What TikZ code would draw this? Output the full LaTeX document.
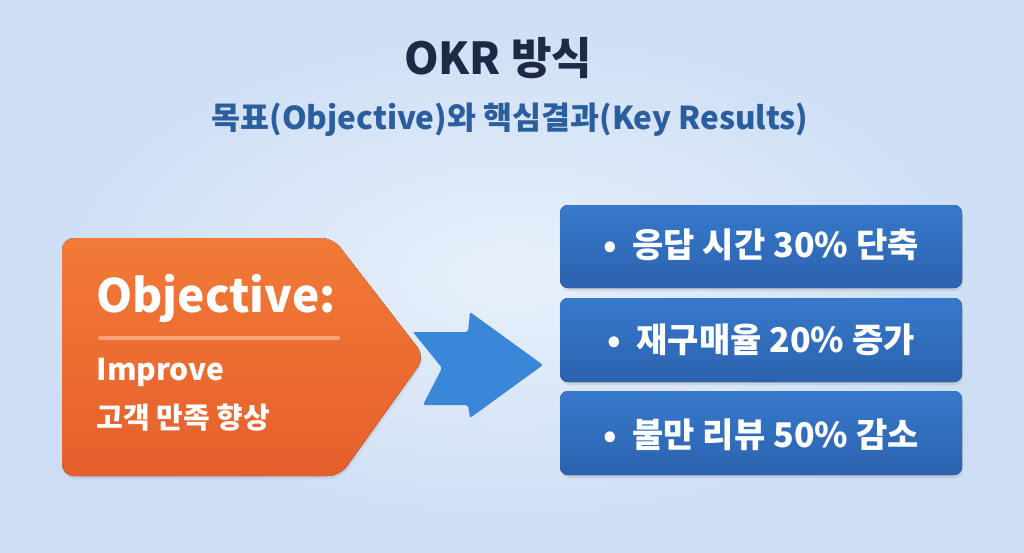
\documentclass[tikz,border=0pt]{standalone}
\usepackage{fontspec}
\setmainfont{Noto Sans CJK KR}
\usetikzlibrary{shadows}
\definecolor{bgin}{HTML}{E8F0FB}
\definecolor{bgout}{HTML}{CCDDF4}
\definecolor{navy}{HTML}{1E2A45}
\definecolor{subblue}{HTML}{2B5E9E}
\definecolor{orangetop}{HTML}{F27A38}
\definecolor{orangebot}{HTML}{E65F2C}
\definecolor{orangeline}{HTML}{F6A47C}
\definecolor{arrowblue}{HTML}{3A86D9}
\definecolor{boxtop}{HTML}{3779CB}
\definecolor{boxbot}{HTML}{2C62AF}
\tikzset{
  krbox/.style={rounded corners=8pt, top color=boxtop, bottom color=boxbot, draw=none,
    drop shadow={opacity=0.18, shadow xshift=1pt, shadow yshift=-3pt}},
  krtext/.style={text=white, font=\fontsize{34}{40}\selectfont\bfseries, anchor=center},
  objtext/.style={text=white, anchor=west}
}
\begin{document}
\begin{tikzpicture}[x=1pt,y=-1pt]
\useasboundingbox (0,0) rectangle (1024,552);
\fill[inner color=bgin, outer color=bgout] (0,0) rectangle (1024,552);

% title
\node[text=navy, font=\fontsize{44}{52}\selectfont\bfseries] (title) at (498,58) {OKR 방식};
\node[text=subblue, font=\fontsize{31.5}{36}\selectfont\bfseries] (subtitle) at (510,120) {목표(Objective)와 핵심결과(Key Results)};

% objective shape
\fill[top color=orangetop, bottom color=orangebot, rounded corners=12pt,
  drop shadow={opacity=0.15, shadow xshift=1pt, shadow yshift=-3pt}]
  (62,238) -- (333,238) -- (425,357) -- (340,476) -- (62,476) -- cycle;
\node[objtext, font=\fontsize{46}{52}\selectfont\bfseries] (objtitle) at (93,298) {Objective:};
\draw[orangeline, line width=4pt, line cap=round] (100,338) -- (338,338);
\node[objtext, font=\fontsize{30}{36}\selectfont\bfseries] (improve) at (93,372) {Improve};
\node[objtext, font=\fontsize{29}{34}\selectfont\bfseries] (objkr) at (93,418) {고객 만족 향상};

% arrow
\fill[arrowblue, rounded corners=2pt]
  (413,332) -- (468,332) -- (470,312) -- (543,365) -- (470,418) -- (468,405) -- (423,405) -- (442,368) -- cycle;

% key results
\fill[krbox] (560,205) rectangle (962,288);
\fill[krbox] (560,298) rectangle (962,382);
\fill[krbox] (560,391) rectangle (962,475);
\node[krtext] (kr1) at (761,245) {• \ 응답 시간 30\% 단축};
\node[krtext] (kr2) at (761,340) {• \ 재구매율 20\% 증가};
\node[krtext] (kr3) at (761,435) {• \ 불만 리뷰 50\% 감소};
\end{tikzpicture}
\end{document}
